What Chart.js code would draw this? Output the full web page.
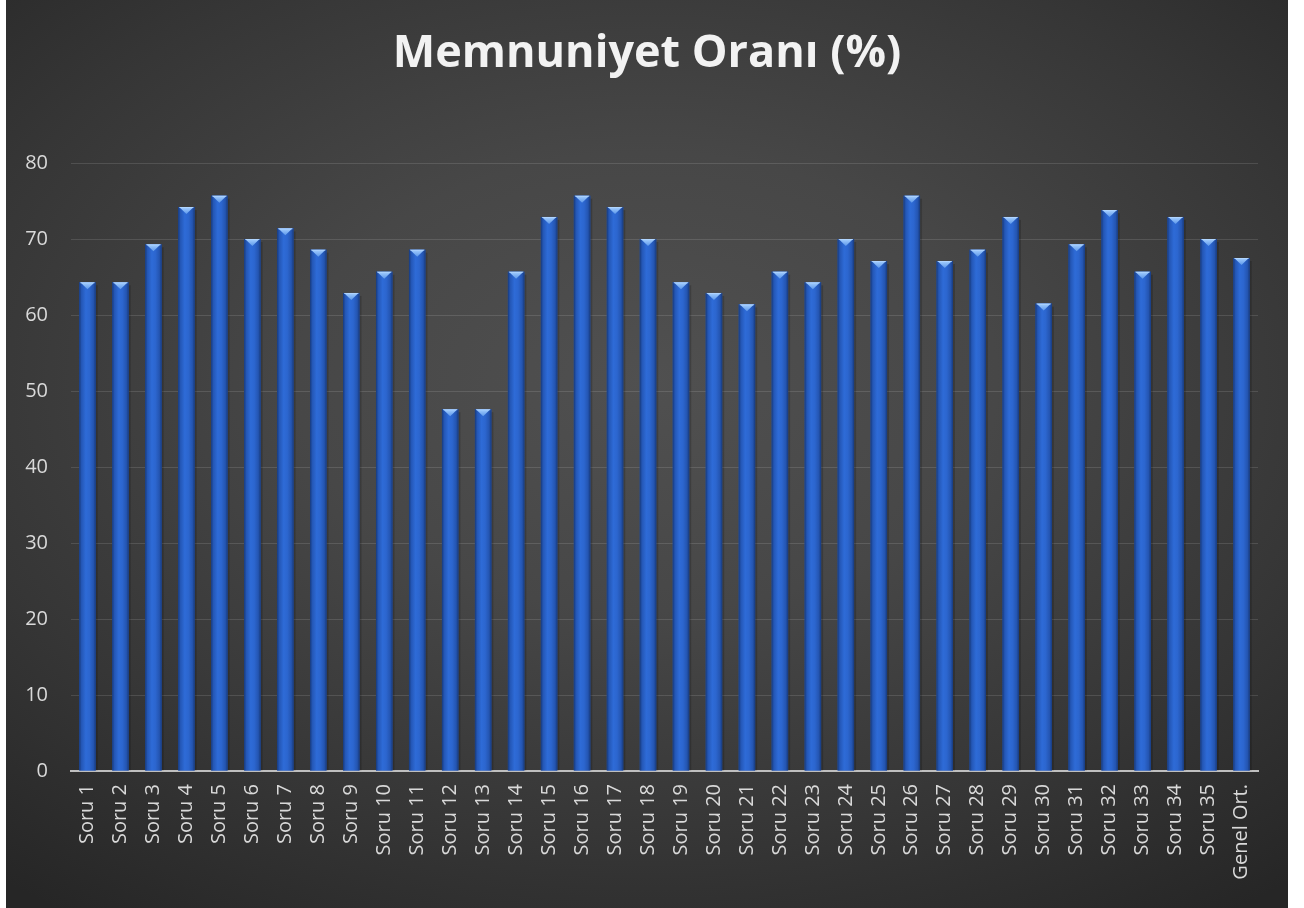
<!DOCTYPE html>
<html>
<head>
<meta charset="utf-8">
<script src="https://cdn.jsdelivr.net/npm/chart.js@4.4.1/dist/chart.umd.min.js"></script>
<style>
  html, body { margin: 0; padding: 0; background: #ffffff; }
  #wrap {
    position: absolute; left: 6px; top: 0; width: 1282px; height: 908px;
    background: radial-gradient(ellipse 78% 72% at 50% 42%, #505050 0%, #474747 35%, #363636 70%, #262626 100%);
  }
  canvas { display: block; }
</style>
</head>
<body>
<div id="wrap"><canvas id="c" width="1282" height="908"></canvas></div>
<script>
const categories = ['Soru 1','Soru 2','Soru 3','Soru 4','Soru 5','Soru 6','Soru 7','Soru 8','Soru 9','Soru 10',
  'Soru 11','Soru 12','Soru 13','Soru 14','Soru 15','Soru 16','Soru 17','Soru 18','Soru 19','Soru 20',
  'Soru 21','Soru 22','Soru 23','Soru 24','Soru 25','Soru 26','Soru 27','Soru 28','Soru 29','Soru 30',
  'Soru 31','Soru 32','Soru 33','Soru 34','Soru 35','Genel Ort.'];
const satisfaction = [64.3, 64.3, 69.3, 74.2, 75.7, 70.0, 71.4, 68.6, 62.9, 65.7,
  68.6, 47.6, 47.6, 65.7, 72.9, 75.7, 74.2, 70.0, 64.3, 62.9,
  61.4, 65.7, 64.3, 70.0, 67.1, 75.7, 67.1, 68.6, 72.9, 61.5,
  69.3, 73.8, 65.7, 72.9, 70.0, 67.5];
const yMin = 0, yMax = 80, yStep = 10;
const chartTitle = 'Memnuniyet Oranı (%)';

const bevelPlugin = {
  id: 'bevel',
  afterDatasetsDraw(chart) {
    const ctx = chart.ctx;
    ctx.save();
    chart.getDatasetMeta(0).data.forEach(bar => {
      const p = bar.getProps(['x', 'y', 'base', 'width'], true);
      const l = p.x - p.width / 2, r = p.x + p.width / 2, w = p.width;
      ctx.fillStyle = 'rgba(0,0,0,0.18)';
      ctx.fillRect(r, p.y + 3, 2, p.base - p.y - 3);
      const g = ctx.createLinearGradient(l, 0, r, 0);
      g.addColorStop(0, '#173a7c');
      g.addColorStop(0.14, '#2457b6');
      g.addColorStop(0.4, '#2e6bd7');
      g.addColorStop(0.62, '#2c66cf');
      g.addColorStop(0.86, '#2455b1');
      g.addColorStop(1, '#173a7c');
      ctx.fillStyle = g;
      ctx.fillRect(l, p.y, w, p.base - p.y);
      const capH = 7;
      const cg = ctx.createLinearGradient(0, p.y, 0, p.y + capH);
      cg.addColorStop(0, '#a6d0ff');
      cg.addColorStop(1, '#5d98ea');
      ctx.fillStyle = cg;
      ctx.beginPath();
      ctx.moveTo(l + 1, p.y);
      ctx.lineTo(r - 1, p.y);
      ctx.lineTo(p.x, p.y + capH);
      ctx.closePath();
      ctx.fill();
      ctx.fillStyle = 'rgba(190,220,255,0.55)';
      ctx.fillRect(l + 1, p.y, w - 2, 1);
    });
    ctx.restore();
  }
};

new Chart(document.getElementById('c'), {
  type: 'bar',
  data: {
    labels: categories,
    datasets: [{
      data: satisfaction,
      backgroundColor: '#2a5fc4',
      borderWidth: 0,
      barPercentage: 0.5,
      categoryPercentage: 1.0
    }]
  },
  options: {
    responsive: false,
    animation: false,
    layout: { padding: { left: 0, right: 0, top: 0, bottom: 0 } },
    plugins: {
      legend: { display: false },
      tooltip: { enabled: false },
      title: {
        display: true,
        text: chartTitle,
        color: '#f2f2f2',
        font: { family: 'Open Sans', size: 45, weight: 'bold', lineHeight: 1.2 },
        padding: { top: 27, bottom: 82 }
      }
    },
    scales: {
      x: {
        grid: { display: false },
        border: { display: true, color: '#bfbfbf', width: 2 },
        ticks: {
          color: '#d9d9d9',
          font: { family: 'Open Sans', size: 20 },
          minRotation: 90, maxRotation: 90,
          autoSkip: false,
          padding: 5
        },
        afterFit(s) { s.height = 137; }
      },
      y: {
        min: yMin, max: yMax,
        grid: {
          color: ctx => ctx.tick && ctx.tick.value === 0 ? 'rgba(0,0,0,0)' : 'rgba(255,255,255,0.12)',
          lineWidth: 1,
          drawTicks: false
        },
        border: { display: false },
        ticks: {
          stepSize: yStep,
          color: '#d9d9d9',
          font: { family: 'Open Sans', size: 20 },
          padding: 23
        },
        afterFit(s) { s.width = 65; }
      },
      yRight: {
        position: 'right',
        display: true,
        grid: { display: false, drawTicks: false },
        border: { display: false },
        ticks: { display: false },
        afterFit(s) { s.width = 30; }
      }
    }
  },
  plugins: [bevelPlugin]
});
</script>
</body>
</html>
